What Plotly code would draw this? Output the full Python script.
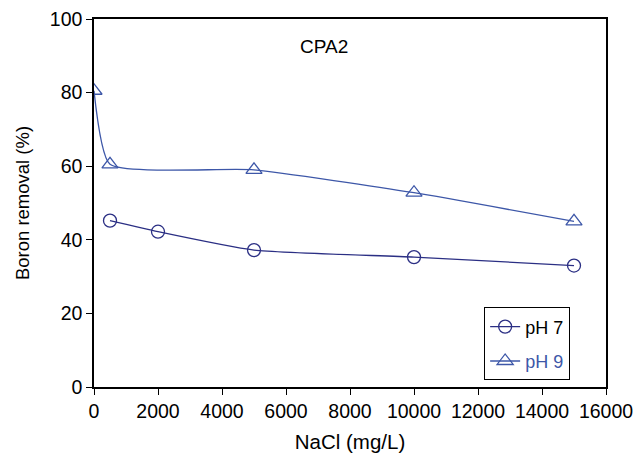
import plotly.graph_objects as go

x_ph7 = [500, 2000, 5000, 10000, 15000]
y_ph7 = [45.2, 42.2, 37.2, 35.3, 33.0]
x_ph9 = [0, 500, 5000, 10000, 15000]
y_ph9 = [80.5, 60.5, 59.0, 52.8, 45.0]

c7 = "#2B2F84"
c9 = "#3D57A8"

fig = go.Figure()
fig.add_trace(go.Scatter(x=x_ph7, y=y_ph7, mode="lines+markers", name="pH 7",
                         legendgroup="a",
                         line=dict(color=c7, width=1.3, shape="spline", smoothing=0.5),
                         marker=dict(symbol="circle-open", size=13, color=c7, line=dict(width=1.3))))
fig.add_trace(go.Scatter(x=x_ph9, y=y_ph9, mode="lines+markers",
                         name="<span style='color:%s'>pH 9</span>" % c9,
                         legendgroup="b",
                         line=dict(color=c9, width=1.3, shape="spline", smoothing=0.5),
                         marker=dict(symbol="triangle-up-open", size=14, color=c9, line=dict(width=1.3))))

fig.add_annotation(x=7200, y=92.5, text="CPA2", showarrow=False,
                   font=dict(size=19, color="black"))

fig.update_layout(
    width=639, height=455,
    margin=dict(l=94, r=33, t=19, b=68),
    plot_bgcolor="white", paper_bgcolor="white",
    font=dict(family="Liberation Sans, Arial", size=18, color="black"),
    showlegend=True,
    legend=dict(x=0.762, y=0.018, xanchor="left", yanchor="bottom",
                bordercolor="black", borderwidth=1, bgcolor="white",
                font=dict(size=18), traceorder="grouped", tracegroupgap=8),
    xaxis=dict(range=[0, 16000], dtick=2000, tickformat="d", showline=True, linecolor="black", linewidth=1.5,
               mirror=True, ticks="outside", ticklen=6, tickcolor="black", showgrid=False,
               tickfont=dict(size=19.5), automargin=False,
               zeroline=False, title=dict(text="NaCl (mg/L)", standoff=13, font=dict(size=20.5))),
    yaxis=dict(range=[0, 100], dtick=20, showline=True, linecolor="black", linewidth=1.5,
               mirror=True, ticks="outside", ticklen=6, tickcolor="black", showgrid=False,
               tickfont=dict(size=19.5), automargin=False,
               zeroline=False, title=dict(text="Boron removal (%)", standoff=15, font=dict(size=18.5))),
)

fig.write_html("out.html")
